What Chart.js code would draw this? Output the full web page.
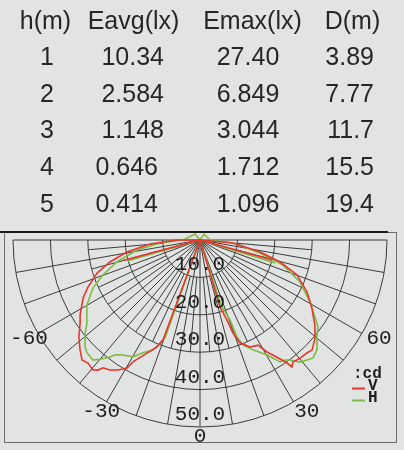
<!DOCTYPE html>
<html>
<head>
<meta charset="utf-8">
<script src="https://cdn.jsdelivr.net/npm/chart.js@4.4.1/dist/chart.umd.min.js"></script>
<style>
html, body { margin: 0; padding: 0; background: #e2e4e3; }
#wrap { position: relative; width: 404px; height: 450px; }
</style>
</head>
<body>
<div id="wrap"><canvas id="lightChart" width="404" height="450"></canvas></div>
<script>
// tabla de iluminancia
const headers = ['h(m)', 'Eavg(lx)', 'Emax(lx)', 'D(m)'];
const heights = ['1', '2', '3', '4', '5'];
const eavg = ['10.34', '2.584', '1.148', '0.646', '0.414'];
const emax = ['27.40', '6.849', '3.044', '1.712', '1.096'];
const dist = ['3.89', '7.77', '11.7', '15.5', '19.4'];

// escala polar
const ringValues = [10, 20, 30, 40, 50];
const ringLabels = ['10.0', '20.0', '30.0', '40.0', '50.0'];
const angleLabels = [-60, -30, 0, 30, 60];

// curva V (roja): angulo en grados, intensidad en cd
const vAngle = [-75, 0, -20.3, -21.9, -25.1, -28.8, -29.7, -32.2, -34.7, -37.2, -38.1, -39.5, -42.3, -44.5, -47.5, -51.3,
    -55.3, -58.0, -63.6, -67.2, -72.2, -76.3, -80.7, -85.4, -90, 0,
    84.8, 78.7, 74.6, 70.2, 64.1, 58.7, 53.5, 49.6, 45.5, 43.4, 40.3, 37.3, 35.9, 35.3, 33.3, 30.9, 28.9, 25.0,
    21.2, 19.5, 18.6, 16.6, 0, 74.5];
const vValue = [21, 0, 28.5, 30.8, 33.4, 37.2, 39.4, 41.1, 42.3, 42.9, 44.2, 45.0, 44.5, 45.0, 43.5, 41.5,
    39.0, 37.8, 34.9, 32.5, 28.9, 24.8, 19.8, 13.4, 6.1, 0,
    8.9, 16.4, 22.2, 27.6, 31.8, 35.0, 38.2, 40.4, 42.0, 41.6, 41.4, 41.0, 41.9, 40.3, 37.5, 34.9, 32.1, 31.6,
    29.5, 26.4, 22.6, 18.7, 0, 20.0];

// curva H (verde)
const hAngle = [-74, 0, -19.7, -21.2, -23.1, -26.8, -29.8, -33.8, -36.5, -37.6, -40.0, -41.7, -45.0, -47.1, -51.0, -53.7,
    -60.1, -65.8, -70.2, -75.2, -81.0, -85.7, -90, -140, 0, 146, 90,
    84.8, 77.8, 73.2, 67.2, 60.6, 55.9, 53.6, 50.3, 46.8, 43.8, 41.7, 39.3, 36.9, 35.3, 33.3, 30.2, 25.7,
    22.3, 20.9, 20.6, 17.9, 0, 73];
const hValue = [20, 0, 27.8, 29.5, 32.0, 33.8, 36.0, 37.0, 38.2, 39.5, 41.6, 43.0, 42.7, 42.0, 39.5, 37.5,
    34.9, 31.4, 27.6, 23.0, 17.1, 10.7, 4.5, 2.1, 0, 1.9, 2.7,
    8.9, 16.4, 23.2, 29.0, 33.8, 37.2, 39.2, 40.6, 42.9, 43.7, 43.0, 42.2, 40.1, 39.3, 39.0, 35.6, 32.6,
    30.3, 27.8, 22.8, 18.3, 0, 21];

// 0 grados hacia abajo, negativo a la izquierda
function toXY(angles, values) {
    return angles.map((a, i) => ({
        x: values[i] * Math.sin(a * Math.PI / 180),
        y: -values[i] * Math.cos(a * Math.PI / 180)
    }));
}

const monoFont = '"Liberation Mono", "Courier New", monospace';

const polarGrid = {
    id: 'polarGrid',
    beforeDatasetsDraw(chart) {
        const { ctx, scales: { x, y } } = chart;
        const cx = x.getPixelForValue(0);
        const cy = y.getPixelForValue(0);
        const unit = x.getPixelForValue(1) - cx;
        const pt = (a, r) => [x.getPixelForValue(r * Math.sin(a * Math.PI / 180)),
                              y.getPixelForValue(-r * Math.cos(a * Math.PI / 180))];
        const maxR = ringValues[ringValues.length - 1];

        ctx.save();
        ctx.strokeStyle = '#3a3a3a';
        ctx.lineWidth = 1;
        ringValues.forEach(r => {
            ctx.beginPath();
            ctx.arc(cx, cy, r * unit, 0, Math.PI);
            ctx.stroke();
        });
        for (let a = -90; a <= 90; a += 10) {
            const p0 = pt(a, 0), p1 = pt(a, maxR);
            ctx.beginPath();
            ctx.moveTo(p0[0], p0[1]);
            ctx.lineTo(p1[0], p1[1]);
            ctx.stroke();
        }
        for (let a = -85; a <= 85; a += 10) {
            const p0 = pt(a, 10), p1 = pt(a, 30);
            ctx.beginPath();
            ctx.moveTo(p0[0], p0[1]);
            ctx.lineTo(p1[0], p1[1]);
            ctx.stroke();
        }
        ctx.restore();
    },
    afterDatasetsDraw(chart) {
        const { ctx, scales: { x, y }, chartArea } = chart;
        const cx = x.getPixelForValue(0);
        const cy = y.getPixelForValue(0);
        const unit = x.getPixelForValue(1) - cx;
        const pt = (a, r) => [x.getPixelForValue(r * Math.sin(a * Math.PI / 180)),
                              y.getPixelForValue(-r * Math.cos(a * Math.PI / 180))];

        ctx.save();
        ctx.fillStyle = '#1e1e1e';
        ctx.font = '21px ' + monoFont;
        ctx.textAlign = 'center';
        ctx.textBaseline = 'middle';
        ringValues.forEach((r, i) => {
            ctx.fillText(ringLabels[i], cx, cy + r * unit - 12.5);
        });
        angleLabels.forEach(a => {
            const p = pt(a, a === 0 ? 52.5 : 52.8);
            ctx.fillText(String(a), p[0] + (a > 0 ? 8 : 0), p[1]);
        });

        // leyenda
        ctx.font = 'bold 16px ' + monoFont;
        ctx.textAlign = 'left';
        ctx.fillText(':cd', 353, 374);
        ctx.fillText('V', 368, 386);
        ctx.fillText('H', 368, 398);
        ctx.lineWidth = 2;
        ctx.strokeStyle = chart.data.datasets[0].borderColor;
        ctx.beginPath(); ctx.moveTo(352, 388.5); ctx.lineTo(365, 388.5); ctx.stroke();
        ctx.strokeStyle = chart.data.datasets[1].borderColor;
        ctx.beginPath(); ctx.moveTo(352, 400.5); ctx.lineTo(365, 400.5); ctx.stroke();

        // marco
        ctx.lineWidth = 1;
        ctx.strokeStyle = '#6e6e6e';
        ctx.strokeRect(chartArea.left + 0.5, chartArea.top + 0.5,
            chartArea.right - chartArea.left - 1, chartArea.bottom - chartArea.top - 1);
        ctx.lineWidth = 2;
        ctx.strokeStyle = '#1a1a1a';
        ctx.beginPath(); ctx.moveTo(0, chartArea.top); ctx.lineTo(388, chartArea.top); ctx.stroke();
        ctx.restore();
    }
};

const tablePlugin = {
    id: 'table',
    afterDraw(chart) {
        const ctx = chart.ctx;
        ctx.save();
        ctx.fillStyle = '#262626';
        ctx.font = '25px "Liberation Sans", Arial, sans-serif';
        ctx.textBaseline = 'alphabetic';
        const headX = [45.5, 133.5, 252.5, 352.5];
        ctx.textAlign = 'center';
        headers.forEach((h, i) => ctx.fillText(h, headX[i], 28.5));
        heights.forEach((h, i) => {
            const yy = 65 + i * 36.7;
            ctx.textAlign = 'center';
            ctx.fillText(h, 47, yy);
            ctx.textAlign = 'right';
            ctx.fillText(eavg[i], i < 3 ? 164 : 158, yy);
            ctx.textAlign = 'center';
            ctx.fillText(emax[i], 248, yy);
            ctx.textAlign = 'right';
            ctx.fillText(dist[i], 374, yy);
        });
        ctx.restore();
    }
};

const ctx = document.getElementById('lightChart').getContext('2d');
new Chart(ctx, {
    type: 'scatter',
    data: {
        datasets: [{
            label: 'V',
            data: toXY(vAngle, vValue),
            showLine: true,
            borderColor: '#e5372c',
            borderWidth: 1.6,
            pointRadius: 0,
            tension: 0
        }, {
            label: 'H',
            data: toXY(hAngle, hValue),
            showLine: true,
            borderColor: '#7cba46',
            borderWidth: 1.6,
            pointRadius: 0,
            tension: 0
        }]
    },
    options: {
        responsive: false,
        animation: false,
        layout: { padding: { left: 4, top: 232, right: 7, bottom: 7 } },
        scales: {
            x: { type: 'linear', min: -52.41, max: 52.67, display: false },
            y: { type: 'linear', min: -54.28, max: 2.14, display: false }
        },
        plugins: {
            legend: { display: false },
            tooltip: { enabled: false }
        }
    },
    plugins: [polarGrid, tablePlugin]
});
</script>
</body>
</html>
